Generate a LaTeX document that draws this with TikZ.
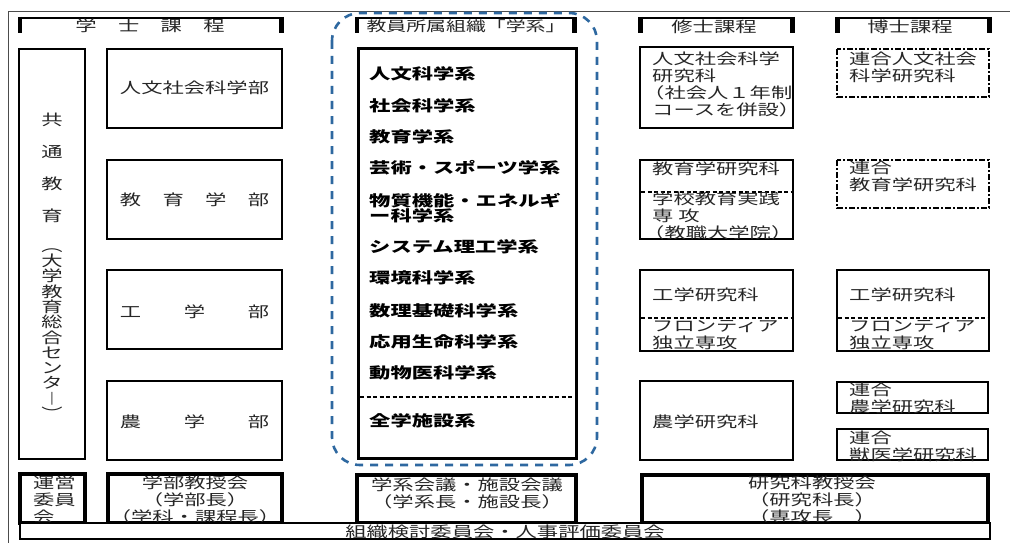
\documentclass[tikz,border=0pt]{standalone}
\usepackage{fontspec}
\newfontfamily\jp[FakeStretch=1.42]{Noto Sans CJK JP}
\definecolor{frameblue}{RGB}{46,104,160}
\newcommand\lp{\kern-9pt（}
\begin{document}
\begin{tikzpicture}[x=1pt,y=-1pt,
  box/.style={draw, line width=1.6pt},
  thickbox/.style={draw, line width=3.5pt},
  inner dash/.style={line width=1.4pt, dash pattern=on 4pt off 2.5pt},
  dashdotbox/.style={draw, line width=1.8pt, dash pattern=on 6pt off 2pt on 2pt off 2pt},
  bracketbar/.style={line width=2pt},
  bracketleg/.style={line width=4.5pt},
  txt/.style={font=\jp\fontsize{15}{17}\selectfont, inner sep=0pt, text=black!85},
  btxt/.style={font=\jp\bfseries\fontsize{15}{17}\selectfont, inner sep=0pt, text=black},
  lefttxt/.style={txt, anchor=west, align=left}]
\useasboundingbox (0,0) rectangle (1010,543);
\fill[white] (0,0) rectangle (1010,543);
% outer frame
\draw[line width=0.8pt, black!70] (8,543) -- (8,11) -- (1010,11);
% header brackets
\draw[bracketbar] (18,18) -- (284,18);
\draw[bracketleg] (20,17) -- (20,33);
\draw[bracketleg] (281.5,17) -- (281.5,33);
\node[txt] (hBach) at (150,26) {学　士　課　程};
\draw[bracketbar] (355,18) -- (577,18);
\draw[bracketleg] (357,17) -- (357,33);
\draw[bracketleg] (574.5,17) -- (574.5,33);
\node[txt, font=\jp\fontsize{14}{16}\selectfont] (hFac) at (466,26) {教員所属組織「学系」};
\draw[bracketbar] (638,18) -- (795,18);
\draw[bracketleg] (640.5,17) -- (640.5,33);
\draw[bracketleg] (792.5,17) -- (792.5,33);
\node[txt] (hMas) at (714,27) {修士課程};
\draw[bracketbar] (835,18) -- (992,18);
\draw[bracketleg] (837.5,17) -- (837.5,33);
\draw[bracketleg] (989.5,17) -- (989.5,33);
\node[txt] (hDoc) at (910,27) {博士課程};
% blue dashed frame
\draw[frameblue, line width=2.6pt, dash pattern=on 8pt off 7pt, rounded corners=28pt] (332,13) rectangle (597,465);
% left column
\draw[box] (19,49) rectangle (85,459);
\node[txt, align=center, font=\jp\fontsize{15}{32}\selectfont] (kyotsu) at (52,168) {共\\通\\教\\育};
\node[txt, align=center, font=\jp\fontsize{15}{15.3}\selectfont] (center) at (52,334) {︵\\大\\学\\教\\育\\総\\合\\セ\\ン\\タ\\︱\\︶};
\draw[box] (107,49) rectangle (282,128);
\node[txt] (jinbun) at (194.5,88) {人文社会科学部};
\draw[box] (107,160) rectangle (282,239);
\node[txt] (kyoiku) at (194.5,200) {教　育　学　部};
\draw[box] (107,270) rectangle (282,349);
\node[txt] (kogaku) at (194.5,312) {工　　学　　部};
\draw[box] (107,381) rectangle (282,460);
\node[txt] (nogaku) at (194.5,422) {農　　学　　部};
% middle column
\draw[line width=3pt] (358,49) rectangle (576,458);
\node[btxt, anchor=west] (m1) at (369,74) {人文科学系};
\node[btxt, anchor=west] (m2) at (369,106) {社会科学系};
\node[btxt, anchor=west] (m3) at (369,137) {教育学系};
\node[btxt, anchor=west] (m4) at (369,168) {芸術・スポーツ学系};
\node[btxt, anchor=west, align=left, font=\jp\bfseries\fontsize{15}{15.5}\selectfont] (m5) at (369,208) {物質機能・エネルギ\\ー科学系};
\node[btxt, anchor=west] (m6) at (369,247) {システム理工学系};
\node[btxt, anchor=west] (m7) at (369,278) {環境科学系};
\node[btxt, anchor=west] (m8) at (369,311) {数理基礎科学系};
\node[btxt, anchor=west] (m9) at (369,342) {応用生命科学系};
\node[btxt, anchor=west] (m10) at (369,373) {動物医科学系};
\draw[inner dash] (360,397) -- (574,397);
\node[btxt, anchor=west] (m11) at (369,421) {全学施設系};
% master column
\draw[box] (640,47) rectangle (793,128);
\node[lefttxt] (ma1) at (652,84) {人文社会科学\\研究科\\\lp 社会人１年制\\コースを併設）};
\draw[box] (640,160) rectangle (793,239);
\node[lefttxt] (ma2) at (652,169) {教育学研究科};
\draw[inner dash] (641,192) -- (792,192);
\node[lefttxt] (ma2b) at (652,216) {学校教育実践\\専 攻\\\lp 教職大学院）};
\draw[box] (640,270) rectangle (793,351);
\node[lefttxt] (ma3) at (652,295) {工学研究科};
\draw[inner dash] (641,318) -- (792,318);
\node[lefttxt] (ma3b) at (652,335.5) {フロンティア\\独立専攻};
\draw[box] (640,381) rectangle (793,460);
\node[lefttxt] (ma4) at (652,422) {農学研究科};
% doctoral column
\draw[dashdotbox] (837,49) rectangle (989,97);
\node[lefttxt] (d1) at (849,67) {連合人文社会\\科学研究科};
\draw[dashdotbox] (837,160) rectangle (989,208);
\node[lefttxt] (d2) at (849,176) {連合\\教育学研究科};
\draw[box] (837,270) rectangle (989,351);
\node[lefttxt] (d3) at (849,295) {工学研究科};
\draw[inner dash] (838,318) -- (988,318);
\node[lefttxt] (d3b) at (849,335.5) {フロンティア\\独立専攻};
\draw[box] (837,382) rectangle (988,413);
\node[lefttxt] (d4) at (849,398) {連合\\農学研究科};
\draw[box] (837,429) rectangle (988,460);
\node[lefttxt] (d5) at (849,446) {連合\\獣医学研究科};
% bottom row
\draw[thickbox] (20,474) rectangle (85,523);
\node[lefttxt] (b1) at (33,500) {運営\\委員\\会};
\draw[thickbox] (108,474) rectangle (282,523);
\node[txt, align=center] (b2) at (195,500) {学部教授会\\（学部長）\\（学科・課程長）};
\draw[thickbox] (357,475) rectangle (576,523);
\node[txt, align=center] (b3) at (467,493) {学系会議・施設会議\\（学系長・施設長）};
\draw[thickbox] (642,475) rectangle (988,523);
\node[txt, align=center] (b4) at (812,500) {研究科教授会\\（研究科長）\\（専攻長　）};
\draw[draw, line width=2.5pt, fill=white] (20,523) rectangle (990,539);
\node[txt] (bar) at (505,532) {組織検討委員会・人事評価委員会};
\end{tikzpicture}
\end{document}
